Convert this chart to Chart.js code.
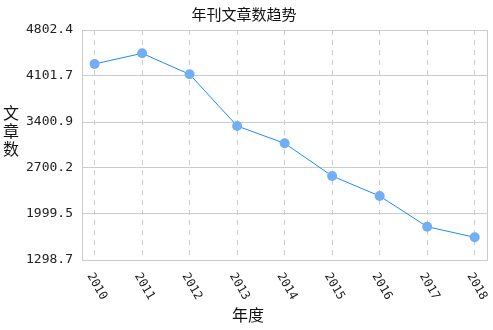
<!DOCTYPE html>
<html><head><meta charset="utf-8">
<script src="https://cdn.jsdelivr.net/npm/chart.js@4/dist/chart.umd.min.js"></script>
<style>html,body{margin:0;padding:0;background:#fff}</style>
</head><body>
<canvas id="c" width="493" height="330"></canvas>
<script>
const years = ['2010','2011','2012','2013','2014','2015','2016','2017','2018'];
const counts = [4285, 4447, 4127, 3340, 3076, 2578, 2273, 1806, 1644];
const yTicks = [1298.7, 1999.5, 2700.2, 3400.9, 4101.7, 4802.4];
const chartTitle = '年刊文章数趋势';
const xTitle = '年度';
const yTitle = '文章数';

const decor = {
  id: 'decor',
  afterDraw(chart) {
    const ctx = chart.ctx, a = chart.chartArea, xs = chart.scales.x;
    ctx.save();
    ctx.strokeStyle = '#cccccc'; ctx.lineWidth = 1;
    ctx.strokeRect(Math.round(a.left) + 0.5, Math.round(a.top) + 0.5, Math.round(a.right - a.left) - 1, Math.round(a.bottom - a.top));
    ctx.fillStyle = '#111';
    ctx.font = '15px "Noto Sans CJK SC"';
    ctx.textAlign = 'center'; ctx.textBaseline = 'middle';
    ctx.fillText(chartTitle, 244, 14);
    ctx.font = '16px "Noto Sans CJK SC"';
    ctx.fillText(xTitle, 248, 315);
    [...yTitle].forEach((ch, i) => ctx.fillText(ch, 11, 113 + i * 18));
    ctx.font = '12px "DejaVu Sans Mono"';
    ctx.fillStyle = '#222';
    years.forEach((lab, i) => {
      const px = xs.getPixelForValue(i);
      ctx.save();
      ctx.translate(px - 5, a.bottom + 14);
      ctx.rotate(Math.PI / 3);
      ctx.textAlign = 'left'; ctx.textBaseline = 'middle';
      ctx.fillText(lab, 0, 0);
      ctx.restore();
    });
    ctx.restore();
  }
};

new Chart(document.getElementById('c'), {
  type: 'line',
  data: {
    datasets: [{
      data: counts.map((v, i) => ({x: i, y: v})),
      borderColor: '#1a8cff', borderWidth: 1, tension: 0,
      pointRadius: 5, pointHoverRadius: 5,
      pointBackgroundColor: '#72aef5', pointBorderWidth: 0
    }]
  },
  options: {
    responsive: false, animation: false,
    layout: {padding: {top: 30, right: 2, left: 0, bottom: 0}},
    plugins: {legend: {display: false}, tooltip: {enabled: false}, title: {display: false}},
    scales: {
      x: {
        type: 'linear', min: -0.265, max: 8.28,
        afterBuildTicks(s) { s.ticks = years.map((_, i) => ({value: i})); },
        afterFit(s) { s.height = 70; },
        ticks: {display: false},
        border: {display: false, dash: [5, 5]},
        grid: {color: '#cccccc', drawTicks: false}
      },
      y: {
        min: 1298.7, max: 4802.4,
        afterBuildTicks(s) { s.ticks = yTicks.map(v => ({value: v})); },
        afterFit(s) { s.width = 82; },
        ticks: {
          padding: 9, color: '#222',
          font: {family: 'DejaVu Sans Mono', size: 13},
          callback: v => v.toFixed(1)
        },
        border: {display: false},
        grid: {color: '#cccccc', drawTicks: false}
      }
    }
  },
  plugins: [decor]
});
</script>
</body></html>
